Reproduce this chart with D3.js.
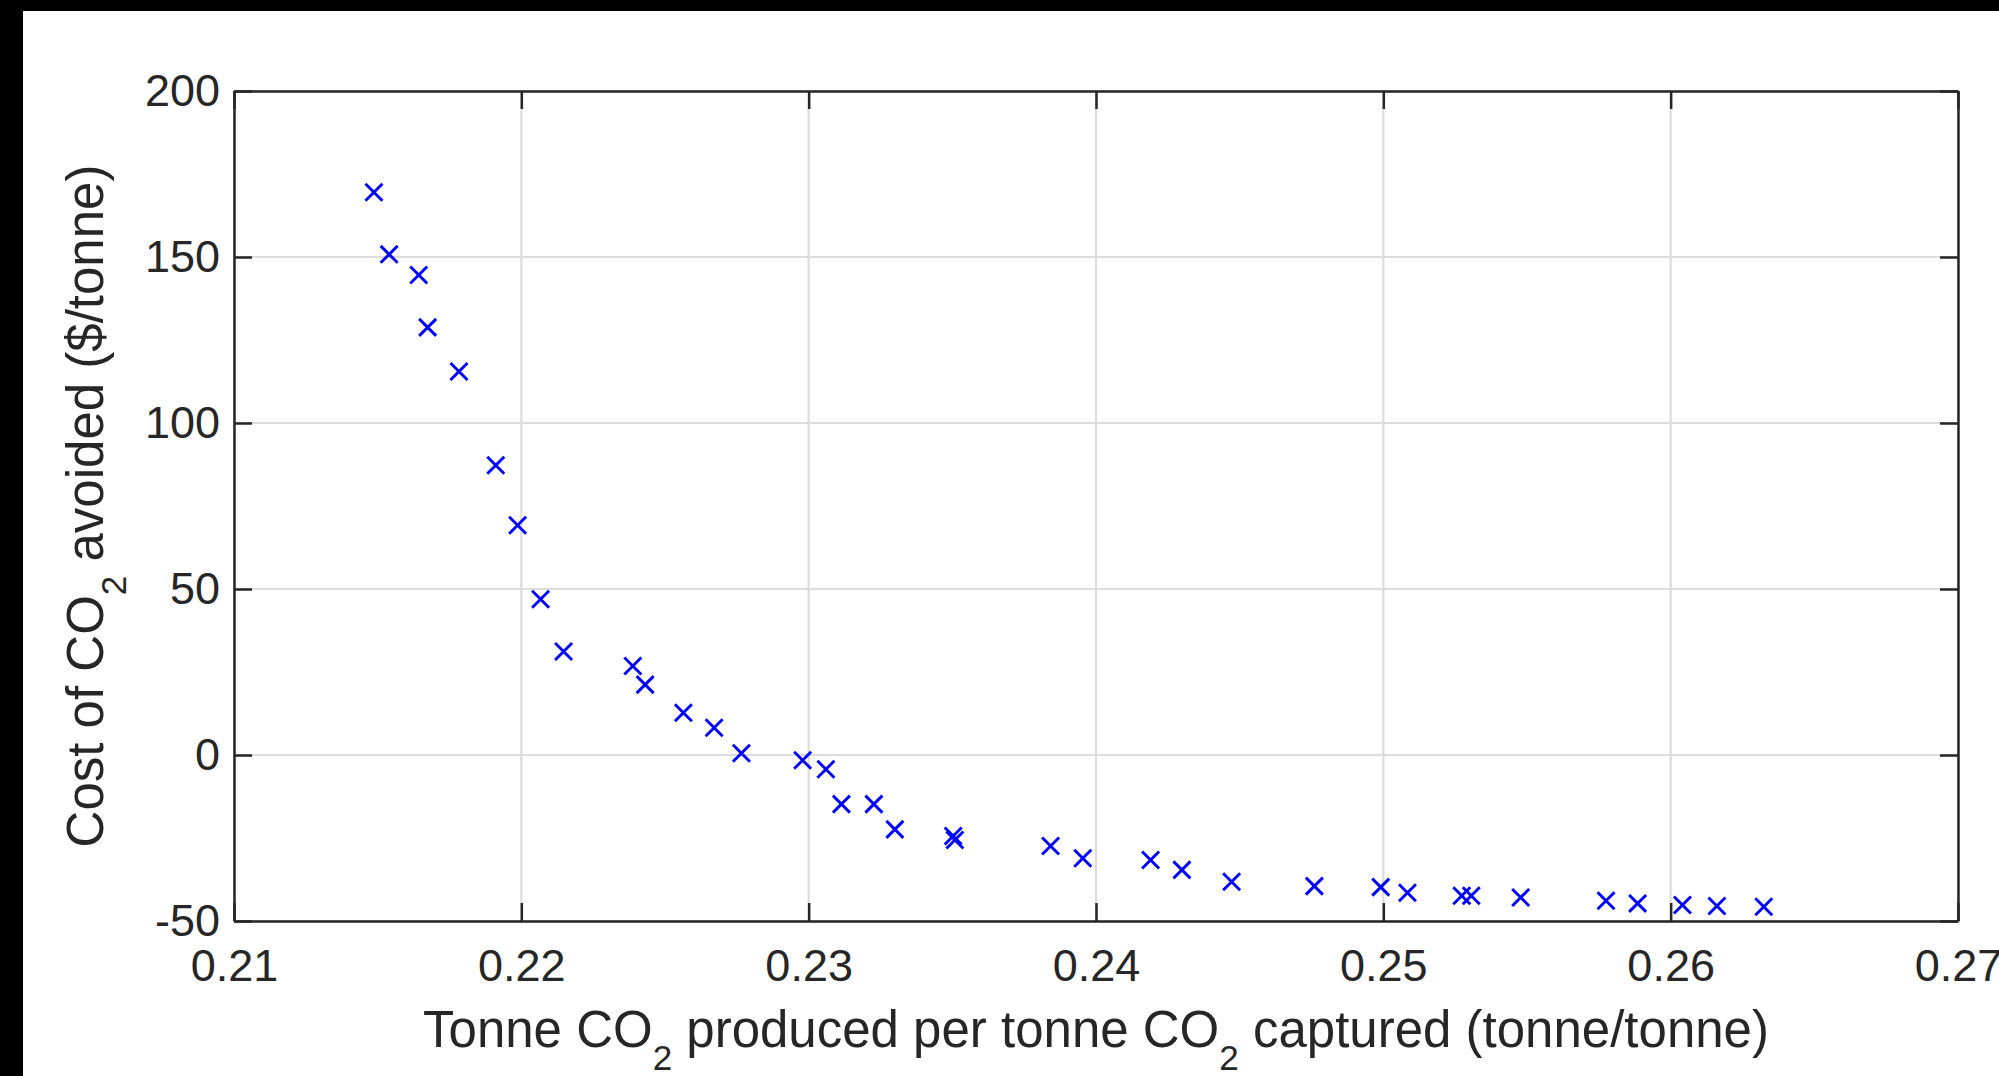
<!DOCTYPE html>
<html>
<head>
<meta charset="utf-8">
<title>cost of CO2 avoided</title>
<script src="https://cdn.jsdelivr.net/npm/d3@7"></script>
<style>
    body { margin: 0; background: #000; }
    svg { display: block; }
    .axis path, .axis line { fill: none; stroke: #262626; stroke-width: 2.5px; }
    .axis text { font-family: "Liberation Sans", Arial, sans-serif; font-size: 45px; fill: #262626; }
    .grid line { stroke: #dcdcdc; stroke-width: 2.2px; }
    .label { font-family: "Liberation Sans", Arial, sans-serif; font-size: 51px; fill: #262626; }
</style>
</head>
<body>
<script>
// data
var xValues = [0.21487, 0.21540, 0.21643, 0.21674, 0.21783, 0.21911, 0.21987, 0.22067, 0.22147,
    0.22388, 0.22431, 0.22564, 0.22671, 0.22766, 0.22979, 0.23060, 0.23114, 0.23227, 0.23300,
    0.23503, 0.23509, 0.23842, 0.23954, 0.24190, 0.24299, 0.24472, 0.24760, 0.24991, 0.25084,
    0.25273, 0.25306, 0.25478, 0.25775, 0.25885, 0.26041, 0.26161, 0.26324];
var yValues = [169.5, 150.8, 144.6, 128.8, 115.5, 87.3, 69.2, 46.9, 31.2,
    26.8, 21.2, 12.7, 8.2, 0.5, -1.6, -4.3, -14.8, -14.8, -22.4,
    -24.4, -25.6, -27.4, -31.1, -31.6, -34.6, -38.2, -39.5, -39.8, -41.5,
    -42.4, -42.4, -42.9, -43.9, -44.7, -45.2, -45.5, -45.7];
var xTicks = [0.21, 0.22, 0.23, 0.24, 0.25, 0.26, 0.27];
var yTicks = [-50, 0, 50, 100, 150, 200];

var w = 1999, h = 1076;
// plot box edges (note: "top" is taken by window.top)
var boxL = 234, boxR = 1958, boxT = 91, boxB = 921;

var svg = d3.select("body").append("svg")
    .attr("width", w)
    .attr("height", h);

// white figure area (black edges at top/left like the original capture)
svg.append("rect").attr("x", 23).attr("y", 11)
    .attr("width", w - 23).attr("height", h - 11)
    .attr("fill", "white");

var xScale = d3.scaleLinear().domain([0.21, 0.27]).range([boxL, boxR]);
var yScale = d3.scaleLinear().domain([-50, 200]).range([boxB, boxT]);

// grid
var grid = svg.append("g").attr("class", "grid");
grid.selectAll(".gx").data(xTicks).enter().append("line")
    .attr("x1", function(d) { return xScale(d); })
    .attr("x2", function(d) { return xScale(d); })
    .attr("y1", boxT).attr("y2", boxB);
grid.selectAll(".gy").data(yTicks).enter().append("line")
    .attr("y1", function(d) { return yScale(d); })
    .attr("y2", function(d) { return yScale(d); })
    .attr("x1", boxL).attr("x2", boxR);

// markers
svg.append("g").selectAll("path")
    .data(xValues.map(function(x, i) { return [x, yValues[i]]; }))
    .enter().append("path")
    .attr("d", d3.symbol(d3.symbolTimes, 190))
    .attr("transform", function(d) {
        return "translate(" + xScale(d[0]) + "," + yScale(d[1]) + ")";
    })
    .attr("fill", "none")
    .attr("stroke", "#0000ff")
    .attr("stroke-width", 2.9);

// axes, ticks pointing inward
svg.append("g").attr("class", "axis")
    .attr("transform", "translate(0," + boxB + ")")
    .call(d3.axisBottom(xScale).tickValues(xTicks).tickFormat(d3.format(".2f"))
        .tickSizeInner(-18).tickSizeOuter(0).tickPadding(28));
svg.append("g").attr("class", "axis")
    .attr("transform", "translate(0," + boxT + ")")
    .call(d3.axisTop(xScale).tickValues(xTicks).tickFormat("")
        .tickSizeInner(-18).tickSizeOuter(0));
svg.append("g").attr("class", "axis")
    .attr("transform", "translate(" + boxL + ",0)")
    .call(d3.axisLeft(yScale).tickValues(yTicks)
        .tickFormat(function(d) { return String(d); }) // plain hyphen for -50
        .tickSizeInner(-18).tickSizeOuter(0).tickPadding(14));
svg.append("g").attr("class", "axis")
    .attr("transform", "translate(" + boxR + ",0)")
    .call(d3.axisRight(yScale).tickValues(yTicks).tickFormat("")
        .tickSizeInner(-18).tickSizeOuter(0));

// axis labels with subscripts
var xl = svg.append("text").attr("class", "label")
    .attr("x", (boxL + boxR) / 2).attr("y", 1047)
    .attr("text-anchor", "middle");
xl.append("tspan").text("Tonne CO");
xl.append("tspan").attr("dy", 23).attr("font-size", 35).text("2");
xl.append("tspan").attr("dy", -23).text(" produced per tonne CO");
xl.append("tspan").attr("dy", 23).attr("font-size", 35).text("2");
xl.append("tspan").attr("dy", -23).text(" captured (tonne/tonne)");

var yl = svg.append("text").attr("class", "label")
    .attr("transform", "translate(103," + ((boxT + boxB) / 2) + ") rotate(-90)")
    .attr("text-anchor", "middle");
yl.append("tspan").text("Cost of CO");
yl.append("tspan").attr("dy", 23).attr("font-size", 35).text("2");
yl.append("tspan").attr("dy", -23).text(" avoided ($/tonne)");
</script>
</body>
</html>
